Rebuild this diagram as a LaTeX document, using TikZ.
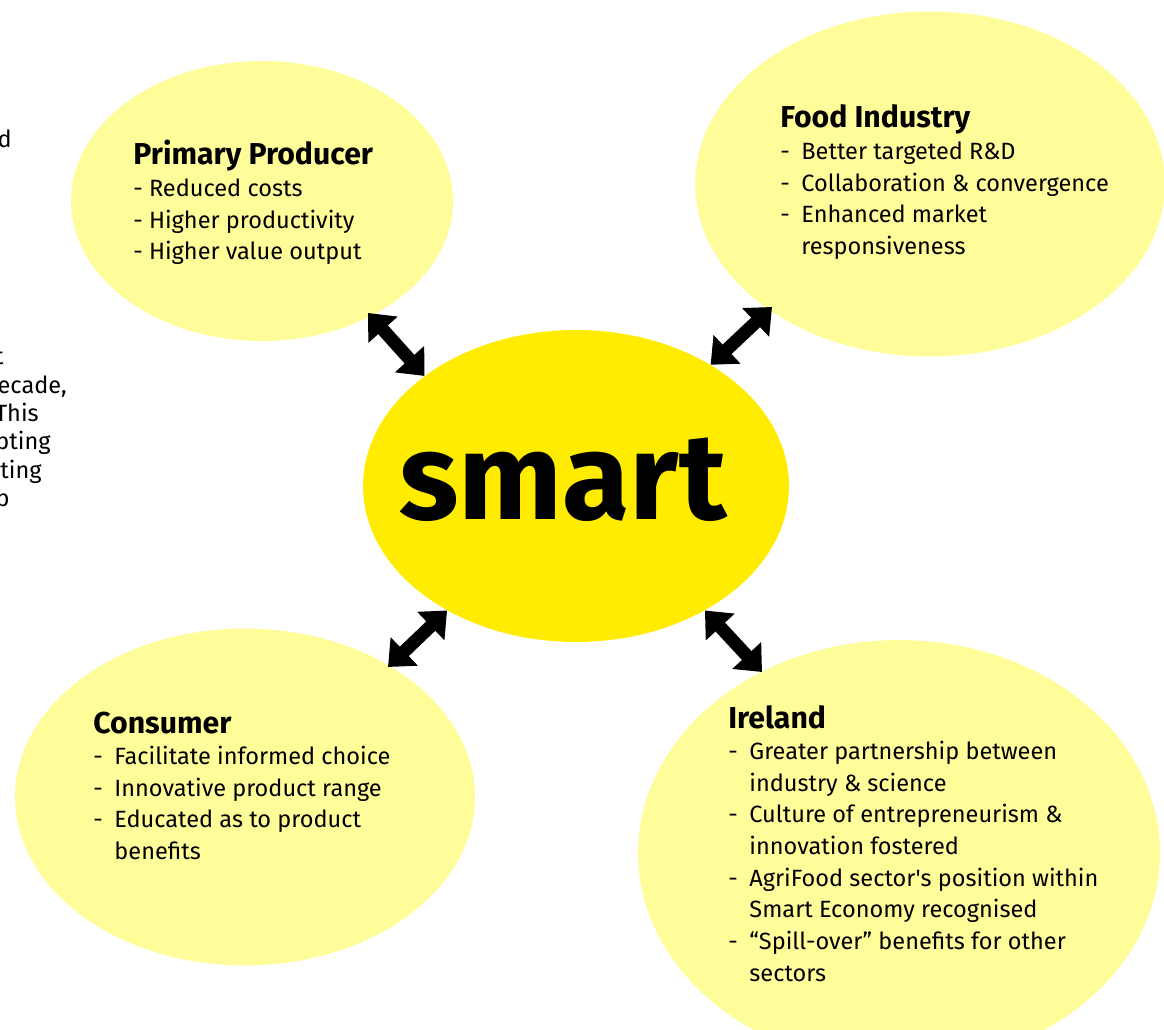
\documentclass[tikz,border=0pt]{standalone}
\usepackage{fontspec}
\setmainfont{Fira Sans}
\usetikzlibrary{shapes.geometric,arrows.meta}
\definecolor{paleyel}{RGB}{255,253,153}
\definecolor{smartyel}{RGB}{255,236,0}
\newcommand{\itm}{\makebox[12pt][l]{-}}
\newcommand{\cnt}{\hspace*{12pt}}
\newcommand{\hd}[1]{{\fontsize{17.2}{18}\selectfont\bfseries #1}}
\begin{document}
\begin{tikzpicture}[x=0.02cm, y=-0.02cm,
        blob/.style={ellipse, fill=paleyel, inner sep=0pt},
        bigarrow/.style={{Triangle[length=0.45cm,width=0.76cm]}-{Triangle[length=0.45cm,width=0.76cm]}, line width=0.26cm},
        txt/.style={anchor=base west, inner sep=0pt, font=\fontsize{13.4}{18}\selectfont},
        frag/.style={anchor=base east, inner sep=0pt, font=\fontsize{13.4}{18}\selectfont}
    ]
        \clip (0,0) rectangle (1164,1030);

        % the bubbles
        \node[blob, minimum width=7.64cm, minimum height=5.60cm] (pp) at (262,201) {};
        \node[blob, minimum width=9.40cm, minimum height=6.90cm] (fi) at (930,184) {};
        \node[blob, minimum width=9.20cm, minimum height=6.74cm] (con) at (245,797) {};
        \node[blob, minimum width=10.44cm, minimum height=8.52cm] (ire) at (899,853) {};
        \node[blob, fill=smartyel, minimum width=8.52cm, minimum height=6.24cm] (smart) at (576,486) {};
        \node[anchor=base, inner sep=0pt, font=\fontsize{70}{70}\selectfont\bfseries] (smartText) at (563,520) {smart};

        % the double arrows
        \coordinate (ppEnd) at (368,313);
        \coordinate (fiEnd) at (772,307);
        \coordinate (conEnd) at (388,667);
        \coordinate (ireEnd) at (762,672);
        \draw[bigarrow] (ppEnd) -- (smart.144);
        \draw[bigarrow] (fiEnd) -- (smart.42);
        \draw[bigarrow] (conEnd) -- (smart.224);
        \draw[bigarrow] (ireEnd) -- (smart.316);

        % texts
        \node[txt] (ppText) at (133,165) {\begin{tabular}[t]{@{}l@{}}
            \hd{Primary Producer}\\
            - Reduced costs\\
            - Higher productivity\\
            - Higher value output
        \end{tabular}};
        \node[txt] (fiText) at (780,128) {\begin{tabular}[t]{@{}l@{}}
            \hd{Food Industry}\\
            \itm Better targeted R\&D\\
            \itm Collaboration \& convergence\\
            \itm Enhanced market\\
            \cnt responsiveness
        \end{tabular}};
        \node[txt] (conText) at (93,733) {\begin{tabular}[t]{@{}l@{}}
            \hd{Consumer}\\
            \itm Facilitate informed choice\\
            \itm Innovative product range\\
            \itm Educated as to product\\
            \cnt benefits
        \end{tabular}};
        \node[txt] (ireText) at (728,728) {\begin{tabular}[t]{@{}l@{}}
            \hd{Ireland}\\
            \itm Greater partnership between\\
            \cnt industry \& science\\
            \itm Culture of entrepreneurism \&\\
            \cnt innovation fostered\\
            \itm AgriFood sector\textquotesingle s position within\\
            \cnt Smart Economy recognised\\
            \itm ``Spill-over'' benefits for other\\
            \cnt sectors
        \end{tabular}};

        % cut-off words at the left edge
        \node[frag] (fragA) at (12,148) {d};
        \node[frag] (fragB) at (4,365) {t};
        \node[frag] (fragC) at (67,394) {ecade,};
        \node[frag] (fragD) at (39,422) {This};
        \node[frag] (fragE) at (51,450) {pting};
        \node[frag] (fragF) at (42,479) {cting};
        \node[frag] (fragG) at (10,507) {p};
    \end{tikzpicture}
\end{document}
